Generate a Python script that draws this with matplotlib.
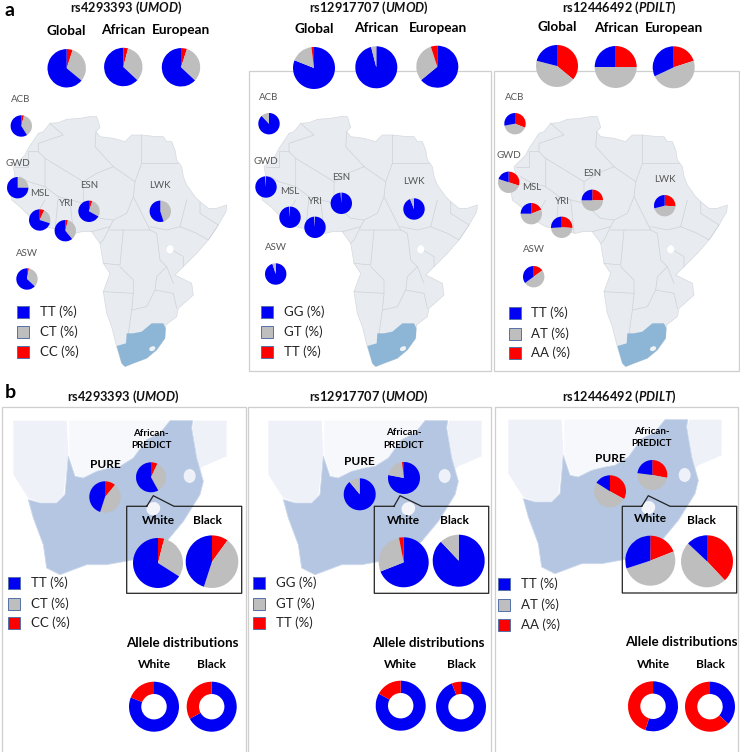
import numpy as np
import matplotlib
matplotlib.use('Agg')
import matplotlib.pyplot as plt
from matplotlib.patches import Polygon, Ellipse, Rectangle

plt.rcParams['font.family'] = ['Lato', 'DejaVu Sans']
plt.rcParams['mathtext.fontset'] = 'custom'
plt.rcParams['mathtext.it'] = 'Lato:italic:bold'
plt.rcParams['mathtext.rm'] = 'Lato:bold'

BLUE = '#0000F5'
GREY = '#BEBEBE'
RED = '#FF0000'

# panel a, order: Global, African, European, ACB, GWD, MSL, YRI, ESN, LWK, ASW
groups = ['Global', 'African', 'European']
pops = ['ACB', 'GWD', 'MSL', 'YRI', 'ESN', 'LWK', 'ASW']

a1_tt = [64, 63, 63, 59, 75, 70, 61, 67, 55, 63]
a1_ct = [31, 33, 32, 37, 25, 23, 35, 28, 45, 34]
a1_cc = [5, 4, 5, 4, 0, 7, 4, 5, 0, 3]

a2_gg = [81, 96, 64, 88, 99, 99, 99, 99, 94, 95]
a2_gt = [17, 4, 31, 12, 1, 1, 1, 1, 6, 5]
a2_tt = [2, 0, 5, 0, 0, 0, 0, 0, 0, 0]

a3_tt = [21, 25, 32, 28, 20, 25, 26, 25, 29, 35]
a3_at = [43, 50, 48, 41, 50, 56, 48, 50, 45, 50]
a3_aa = [36, 25, 20, 31, 30, 19, 26, 25, 26, 15]

# panel b, order: PURE, African-PREDICT, White, Black
b1_tt = [45, 58, 66, 45]
b1_ct = [44, 35, 30, 45]
b1_cc = [11, 7, 4, 10]

b2_gg = [89, 78, 69, 88]
b2_gt = [11, 20, 28, 12]
b2_tt = [0, 2, 3, 0]

b3_tt = [16, 23, 30, 13]
b3_at = [51, 49, 51, 49]
b3_aa = [33, 28, 19, 38]

# allele distributions, order: White, Black
b1_allele_t = [81, 67]
b1_allele_c = [19, 33]
b2_allele_g = [83, 94]
b2_allele_t = [17, 6]
b3_allele_t = [55, 37]
b3_allele_a = [45, 63]

# map shapes, traced in pixels x3
africa = [(115,400),(130,395),(150,370),(175,368),(200,358),(240,355),(268,350),(290,350),(300,382),(288,395),
          (300,410),(340,415),(375,425),(395,405),(425,405),(470,410),(490,410),(500,425),(515,425),(525,450),
          (530,480),(545,500),(550,530),(560,555),(585,590),(600,605),(625,625),(650,625),(680,615),(678,635),
          (655,675),(625,720),(590,760),(550,800),(525,825),(545,835),(575,850),(580,885),(535,925),(530,950),
          (497,975),(495,1015),(470,1050),(440,1075),(400,1090),(375,1100),(365,1090),(350,1040),(335,980),
          (320,940),(310,875),(330,820),(310,790),(300,730),(275,695),(245,695),(225,700),(180,690),(135,680),
          (100,660),(60,620),(35,600),(30,565),(45,525),(40,500),(75,465),(85,445)]
za = [(350,1038),(378,1030),(380,1000),(400,1000),(425,995),(455,970),(490,970),(497,985),(495,1015),(470,1050),
      (440,1075),(400,1090),(375,1100),(365,1090)]
borders = [
    [(85,455),(115,455),(115,430),(190,405),(150,370)],
    [(45,500),(85,500),(85,455)],
    [(115,455),(135,475),(135,560),(85,545),(60,530)],
    [(135,475),(250,545),(290,520),(340,500)],
    [(288,395),(285,440),(340,500)],
    [(340,500),(405,545),(400,590),(380,640),(340,660),(300,655),(250,610),(250,545)],
    [(425,405),(425,490),(405,545)],
    [(425,490),(535,490)],
    [(135,560),(175,590),(250,610)],
    [(400,590),(425,640),(450,690)],
    [(450,680),(500,690),(540,680),(560,600)],
    [(540,680),(590,700),(625,720),(655,675),(600,640),(600,605)],
    [(275,695),(330,680),(340,660)],
    [(330,680),(310,720),(300,730)],
    [(330,690),(370,690),(450,690),(470,700),(480,780),(500,800),(470,830),(465,870)],
    [(310,790),(360,795),(370,690)],
    [(310,875),(400,880),(400,840),(360,800)],
    [(385,1000),(395,930),(400,880)],
    [(395,930),(440,920),(465,870),(520,880),(530,925)],
    [(500,740),(550,770),(550,800)],
    [(500,800),(520,850)],
    [(175,590),(165,690)],
    [(210,600),(220,700)],
    [(100,660),(135,600)],
]
sa_blue = [(85,365),(120,375),(170,375),(195,350),(205,235),(225,295),(250,300),(290,280),(330,270),(360,265),
           (400,240),(440,185),(480,165),(510,128),(578,128),(575,150),(590,240),(610,310),(600,350),(550,430),
           (500,490),(430,540),(320,560),(260,560),(180,590),(140,570),(130,500),(100,420)]
sa_west = [(40,128),(200,128),(205,230),(190,350),(170,372),(120,372),(85,360),(40,290)]
sa_mid = [(208,128),(505,128),(480,160),(440,182),(400,237),(360,262),(330,267),(290,277),(250,297),(228,292),(208,232)]
sa_east = [(582,128),(680,128),(680,235),(610,265),(600,275),(590,240),(578,150)]

fig = plt.figure(figsize=(7.4, 7.52), dpi=100)
ax = fig.add_axes([0, 0, 1, 1])


def Y(y):
    return 752 - y


def pie(vals, cols, x, y, r, inner=None):
    wp = {'linewidth': 0, 'zorder': 6}
    if inner:
        wp['width'] = r - inner
    ax.pie(vals, colors=cols, center=(x, Y(y)), radius=r, startangle=90, counterclock=False,
           wedgeprops=wp, normalize=True)


def shape(pts, dx, dy, **kw):
    p = np.array(pts) / 3.0
    ax.add_patch(Polygon(np.c_[p[:, 0] + dx, Y(p[:, 1] + dy)], **kw))


def txt(x, y, s, size=10, weight='normal', color='black', ha='center'):
    ax.text(x, Y(y), s, fontsize=size, fontweight=weight, color=color, ha=ha, va='center', zorder=8)


def title(x, y, rs, gene):
    txt(x, y, rs + ' ($\\mathit{' + gene + '}$)', size=9.2, weight='bold', color='#111111')


def legend(x, ys, x_text, labels):
    for yy, col, lab in zip(ys, [BLUE, GREY, RED], labels):
        ax.add_patch(Rectangle((x, Y(yy + 6)), 12, 12, facecolor=col, edgecolor='#5470A8', lw=0.7, zorder=7))
        txt(x_text, yy, lab, size=9.5, color='#222222', ha='left')


def africa_map(dx):
    shape(africa, dx, 0, facecolor='#E8ECF0', edgecolor='#D5DADE', lw=0.5, zorder=1)
    for b in borders:
        p = np.array(b) / 3.0
        ax.plot(p[:, 0] + dx, Y(p[:, 1]), color='#CDD2D6', lw=0.5, zorder=2)
    shape(za, dx, 0, facecolor='#8DB5D6', edgecolor='none', zorder=3)
    ax.add_patch(Ellipse((457 / 3 + dx, Y(1046 / 3)), 6.5, 4.5, angle=25, facecolor='#EEF2F5', edgecolor='none', zorder=4))
    ax.add_patch(Ellipse((510 / 3 + dx, Y(748 / 3)), 7, 8, facecolor='white', edgecolor='none', zorder=4))


def sa_map(dx, dy):
    shape(sa_west, dx, dy, facecolor='#EEF1F8', edgecolor='none', zorder=1)
    shape(sa_mid, dx, dy, facecolor='#F7F8FC', edgecolor='none', zorder=1)
    shape(sa_east, dx, dy, facecolor='#EEF1F8', edgecolor='none', zorder=1)
    shape(sa_blue, dx, dy, facecolor='#B5C6E2', edgecolor='#CBD7EB', lw=0.6, zorder=2)
    ax.add_patch(Ellipse((460 / 3 + dx, Y(392 / 3 + dy)), 14, 13, angle=30, facecolor='#F3F5FA', edgecolor='none', zorder=3))
    ax.add_patch(Ellipse((569 / 3 + dx, Y(294 / 3 + dy)), 12, 14, facecolor='#EEF1F8', edgecolor='none', zorder=3))


def inset(x0, x1, y0, y1, xa, xb, xc, yt):
    ax.plot([xa, x0, x0, x1, x1, xc, xb, xa], [Y(y0), Y(y0), Y(y1), Y(y1), Y(y0), Y(y0), Y(yt), Y(y0)],
            color='#222222', lw=0.9, zorder=5)


# panel frames
frame = '#CFCFCF'
for x0, x1, y0, y1 in [(248.5, 490.5, 70.5, 370.5), (494, 738.5, 70.5, 370.5)]:
    ax.add_patch(Rectangle((x0, Y(y1)), x1 - x0, y1 - y0, facecolor='white', edgecolor=frame, lw=0.9, zorder=0))
for x0, x1 in [(1.5, 245.5), (248, 491), (495, 738)]:
    ax.plot([x0, x0, x1, x1], [0, Y(407), Y(407), 0], color=frame, lw=0.9, zorder=0)

# panel a
africa_map(0)
africa_map(250.7)
africa_map(500.7)

a_series = [
    ([a1_cc, a1_ct, a1_tt], [RED, GREY, BLUE]),
    ([a2_gg, a2_gt, a2_tt], [BLUE, GREY, RED]),
    ([a3_aa, a3_at, a3_tt], [RED, GREY, BLUE]),
]
a_pos = [
    [(66.7, 68.3), (123.3, 67), (181, 67.3), (21.3, 126), (17.7, 187.7), (39.7, 220), (65.3, 230.7), (89, 211.3), (160.3, 211.3), (27, 279)],
    [(314, 68), (376.3, 67.3), (437.3, 66.7), (269, 123.7), (266, 187), (290, 217.3), (315, 227.3), (341.3, 203.3), (414, 209), (275.7, 274)],
    [(557, 66), (615.7, 67), (673.7, 67.3), (515, 123.7), (508.7, 182.3), (531.3, 213.7), (561.7, 227.3), (592.3, 200.3), (664.7, 205.7), (533.7, 276.7)],
]
a_rad = [[19.2, 19.2, 19.2], [21, 21, 21], [21, 21, 21]]
for (series, cols), pos, rad in zip(a_series, a_pos, a_rad):
    for i, (x, y) in enumerate(pos):
        vals = [s[i] for s in series]
        pie(vals, cols, x, y, rad[i] if i < 3 else 10.7)

group_txt = [
    [(66.5, 31), (123, 30), (181, 30)],
    [(314, 29), (376, 28.5), (437.5, 28)],
    [(557, 27), (616, 28), (674, 28.5)],
]
for row in group_txt:
    for (x, y), g in zip(row, groups):
        txt(x, y, g, size=9.8, weight='bold')

pop_txt = [
    [(21, 99), (18, 164), (40, 193), (66, 204), (89, 185), (160, 185), (27, 253)],
    [(269, 97), (266, 161), (290, 191), (315, 201), (341, 177), (414, 182), (276, 247)],
    [(515, 97), (508.5, 156), (531.5, 187), (562, 201), (592, 174), (664.5, 179), (534, 250)],
]
for row in pop_txt:
    for (x, y), p in zip(row, pops):
        txt(x, y, p, size=7, color='#555555')

title(126, 7.5, 'rs4293393', 'UMOD')
title(369, 7.5, 'rs12917707', 'UMOD')
title(619, 7.5, 'rs12446492', 'PDILT')
legend(17, [312, 332, 351.5], 40, ['TT (%)', 'CT (%)', 'CC (%)'])
legend(260.5, [312, 332, 351.5], 284, ['GG (%)', 'GT (%)', 'TT (%)'])
legend(508.5, [313, 333.5, 352.5], 531, ['TT (%)', 'AT (%)', 'AA (%)'])
txt(9.5, 11, 'a', size=14, weight='bold')
txt(10, 392, 'b', size=14, weight='bold')

# panel b
title(123, 396.5, 'rs4293393', 'UMOD')
title(369, 396.5, 'rs12917707', 'UMOD')
title(619, 396.5, 'rs12446492', 'PDILT')
sa_map(0, 378)
sa_map(255, 378)
sa_map(495, 377)

inset(126.7, 241.7, 506.3, 593.3, 146.7, 153.3, 174, 495.7)
inset(374.3, 488.7, 506.3, 593.3, 394, 400, 421.7, 495.7)
inset(622.3, 736.7, 506.3, 593, 641.7, 648.3, 670, 495.7)

b_series = [
    ([b1_cc, b1_ct, b1_tt], [RED, GREY, BLUE]),
    ([b2_gg, b2_gt, b2_tt], [BLUE, GREY, RED]),
    ([b3_aa, b3_at, b3_tt], [RED, GREY, BLUE]),
]
b_pos = [
    [(105, 497), (151, 477.3), (158, 563), (212, 561.7)],
    [(359.7, 494.3), (404, 478), (403.7, 562.3), (458.7, 560.7)],
    [(610, 491.3), (652.3, 475), (650.3, 560.7), (707, 561.3)],
]
b_rad = [[15.7, 15, 25, 26.3], [16, 16, 25, 26], [16, 15, 25, 26]]
for (series, cols), pos, rad in zip(b_series, b_pos, b_rad):
    for i, (x, y) in enumerate(pos):
        pie([s[i] for s in series], cols, x, y, rad[i])

allele_series = [(b1_allele_t, b1_allele_c), (b2_allele_g, b2_allele_t), (b3_allele_t, b3_allele_a)]
allele_pos = [[(154, 706.7), (211.7, 706.7)], [(400.7, 705.7), (461, 706.7)], [(653, 706.3), (710, 706.7)]]
for (blue, red), pos in zip(allele_series, allele_pos):
    for i, (x, y) in enumerate(pos):
        pie([blue[i], red[i]], [BLUE, RED], x, y, 25, inner=12.7)

labels_b = [
    [(105, 464.5, 'PURE'), (151, 433, 'African-'), (151, 446, 'PREDICT'), (158, 521, 'White'), (207, 521, 'Black'),
     (182, 643, 'Allele distributions'), (154, 664.5, 'White'), (211.5, 664.5, 'Black')],
    [(359.5, 461.5, 'PURE'), (404, 432.5, 'African-'), (404, 446, 'PREDICT'), (403.5, 520, 'White'), (454, 520.5, 'Black'),
     (428, 643, 'Allele distributions'), (400.5, 664, 'White'), (461, 664.5, 'Black')],
    [(610, 458, 'PURE'), (652, 431, 'African-'), (652, 444, 'PREDICT'), (650, 518.5, 'White'), (701, 520, 'Black'),
     (681, 642, 'Allele distributions'), (653, 664.5, 'White'), (710, 664.5, 'Black')],
]
for row in labels_b:
    for x, y, s in row:
        size = 9.6 if s == 'Allele distributions' else 7 if s in ('African-', 'PREDICT') else 8.6
        txt(x, y, s, size=size, weight='bold')

legend(7.5, [583, 604, 623], 31, ['TT (%)', 'CT (%)', 'CC (%)'])
legend(252.5, [583, 604, 623], 276, ['GG (%)', 'GT (%)', 'TT (%)'])
legend(498, [584, 605, 625], 521, ['TT (%)', 'AT (%)', 'AA (%)'])

ax.set_xlim(0, 740)
ax.set_ylim(0, 752)
ax.set_aspect('auto')
ax.axis('off')
fig.savefig('out.png', dpi=100)
